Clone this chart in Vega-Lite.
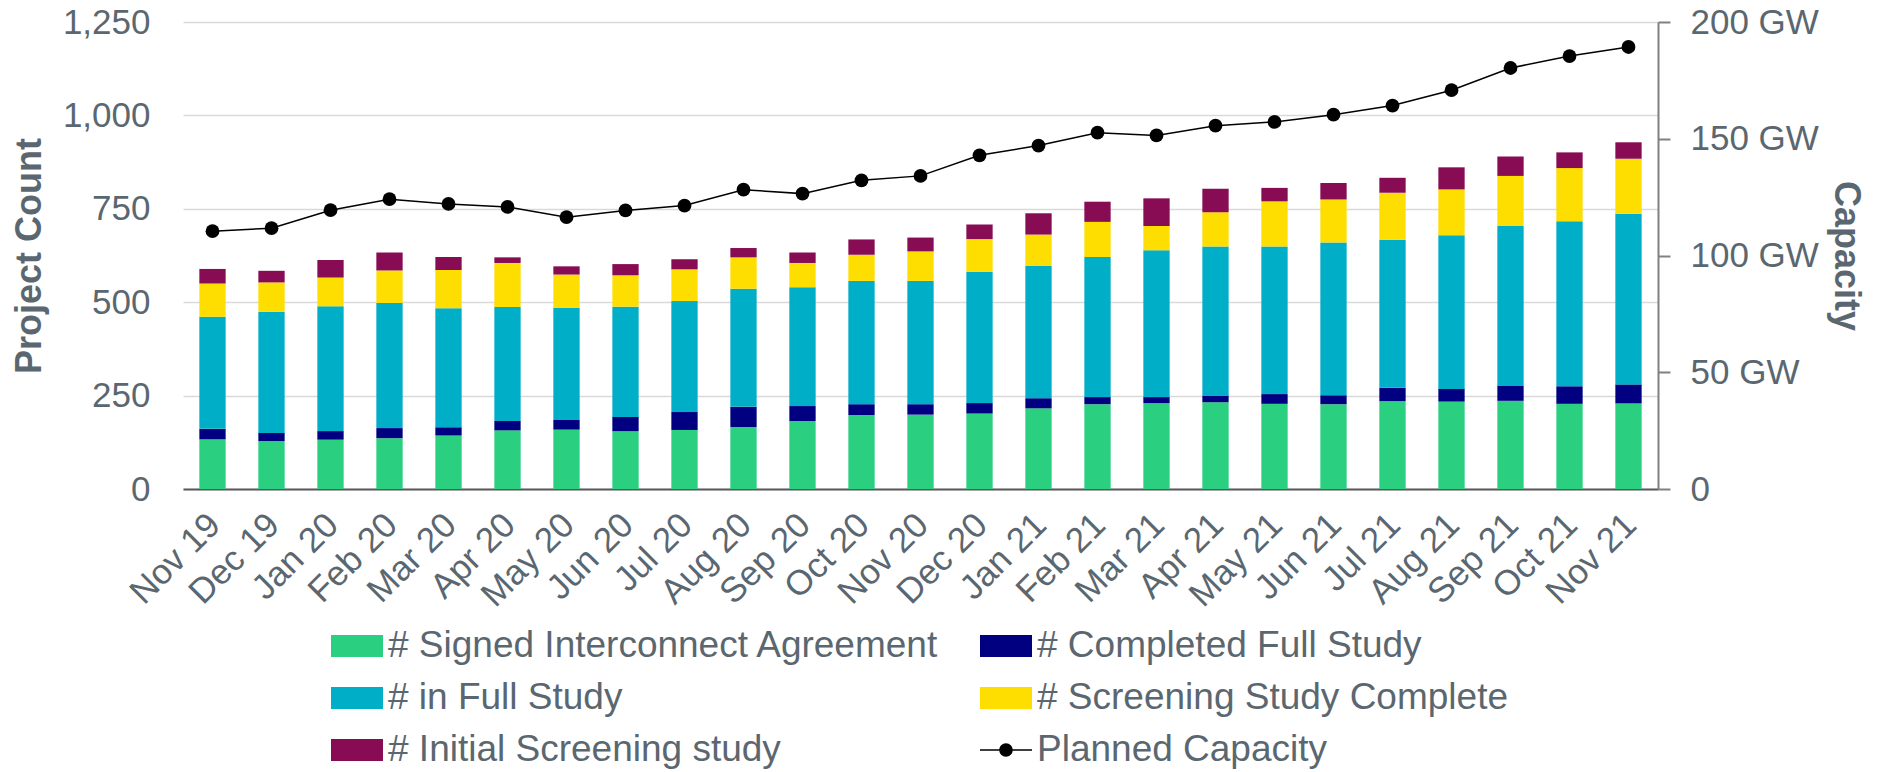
{
  "$schema": "https://vega.github.io/schema/vega-lite/v6.json",
  "width": 1475,
  "height": 467,
  "autosize": {"type": "none"},
  "padding": {"left": 183, "top": 22, "right": 228, "bottom": 283},
  "background": "white",
  "config": {
    "view": {"stroke": null},
    "font": "Liberation Sans",
    "axis": {"labelFont": "Liberation Sans", "titleFont": "Liberation Sans", "labelColor": "#5B6770", "titleColor": "#5B6770"}
  },
  "datasets": {
    "queue": [
      {"month": "Nov 19", "series": "# Signed Interconnect Agreement", "count": 133},
      {"month": "Nov 19", "series": "# Completed Full Study", "count": 28},
      {"month": "Nov 19", "series": "# in Full Study", "count": 300},
      {"month": "Nov 19", "series": "# Screening Study Complete", "count": 89},
      {"month": "Nov 19", "series": "# Initial Screening study", "count": 39},
      {"month": "Dec 19", "series": "# Signed Interconnect Agreement", "count": 128},
      {"month": "Dec 19", "series": "# Completed Full Study", "count": 22},
      {"month": "Dec 19", "series": "# in Full Study", "count": 324},
      {"month": "Dec 19", "series": "# Screening Study Complete", "count": 79},
      {"month": "Dec 19", "series": "# Initial Screening study", "count": 31},
      {"month": "Jan 20", "series": "# Signed Interconnect Agreement", "count": 132},
      {"month": "Jan 20", "series": "# Completed Full Study", "count": 23},
      {"month": "Jan 20", "series": "# in Full Study", "count": 334},
      {"month": "Jan 20", "series": "# Screening Study Complete", "count": 77},
      {"month": "Jan 20", "series": "# Initial Screening study", "count": 47},
      {"month": "Feb 20", "series": "# Signed Interconnect Agreement", "count": 136},
      {"month": "Feb 20", "series": "# Completed Full Study", "count": 27},
      {"month": "Feb 20", "series": "# in Full Study", "count": 335},
      {"month": "Feb 20", "series": "# Screening Study Complete", "count": 87},
      {"month": "Feb 20", "series": "# Initial Screening study", "count": 48},
      {"month": "Mar 20", "series": "# Signed Interconnect Agreement", "count": 143},
      {"month": "Mar 20", "series": "# Completed Full Study", "count": 22},
      {"month": "Mar 20", "series": "# in Full Study", "count": 319},
      {"month": "Mar 20", "series": "# Screening Study Complete", "count": 102},
      {"month": "Mar 20", "series": "# Initial Screening study", "count": 35},
      {"month": "Apr 20", "series": "# Signed Interconnect Agreement", "count": 157},
      {"month": "Apr 20", "series": "# Completed Full Study", "count": 25},
      {"month": "Apr 20", "series": "# in Full Study", "count": 305},
      {"month": "Apr 20", "series": "# Screening Study Complete", "count": 118},
      {"month": "Apr 20", "series": "# Initial Screening study", "count": 15},
      {"month": "May 20", "series": "# Signed Interconnect Agreement", "count": 159},
      {"month": "May 20", "series": "# Completed Full Study", "count": 26},
      {"month": "May 20", "series": "# in Full Study", "count": 300},
      {"month": "May 20", "series": "# Screening Study Complete", "count": 89},
      {"month": "May 20", "series": "# Initial Screening study", "count": 22},
      {"month": "Jun 20", "series": "# Signed Interconnect Agreement", "count": 155},
      {"month": "Jun 20", "series": "# Completed Full Study", "count": 38},
      {"month": "Jun 20", "series": "# in Full Study", "count": 295},
      {"month": "Jun 20", "series": "# Screening Study Complete", "count": 84},
      {"month": "Jun 20", "series": "# Initial Screening study", "count": 30},
      {"month": "Jul 20", "series": "# Signed Interconnect Agreement", "count": 158},
      {"month": "Jul 20", "series": "# Completed Full Study", "count": 48},
      {"month": "Jul 20", "series": "# in Full Study", "count": 297},
      {"month": "Jul 20", "series": "# Screening Study Complete", "count": 85},
      {"month": "Jul 20", "series": "# Initial Screening study", "count": 27},
      {"month": "Aug 20", "series": "# Signed Interconnect Agreement", "count": 166},
      {"month": "Aug 20", "series": "# Completed Full Study", "count": 54},
      {"month": "Aug 20", "series": "# in Full Study", "count": 316},
      {"month": "Aug 20", "series": "# Screening Study Complete", "count": 84},
      {"month": "Aug 20", "series": "# Initial Screening study", "count": 25},
      {"month": "Sep 20", "series": "# Signed Interconnect Agreement", "count": 182},
      {"month": "Sep 20", "series": "# Completed Full Study", "count": 40},
      {"month": "Sep 20", "series": "# in Full Study", "count": 318},
      {"month": "Sep 20", "series": "# Screening Study Complete", "count": 65},
      {"month": "Sep 20", "series": "# Initial Screening study", "count": 28},
      {"month": "Oct 20", "series": "# Signed Interconnect Agreement", "count": 198},
      {"month": "Oct 20", "series": "# Completed Full Study", "count": 29},
      {"month": "Oct 20", "series": "# in Full Study", "count": 330},
      {"month": "Oct 20", "series": "# Screening Study Complete", "count": 70},
      {"month": "Oct 20", "series": "# Initial Screening study", "count": 41},
      {"month": "Nov 20", "series": "# Signed Interconnect Agreement", "count": 199},
      {"month": "Nov 20", "series": "# Completed Full Study", "count": 28},
      {"month": "Nov 20", "series": "# in Full Study", "count": 330},
      {"month": "Nov 20", "series": "# Screening Study Complete", "count": 79},
      {"month": "Nov 20", "series": "# Initial Screening study", "count": 37},
      {"month": "Dec 20", "series": "# Signed Interconnect Agreement", "count": 202},
      {"month": "Dec 20", "series": "# Completed Full Study", "count": 28},
      {"month": "Dec 20", "series": "# in Full Study", "count": 351},
      {"month": "Dec 20", "series": "# Screening Study Complete", "count": 88},
      {"month": "Dec 20", "series": "# Initial Screening study", "count": 39},
      {"month": "Jan 21", "series": "# Signed Interconnect Agreement", "count": 216},
      {"month": "Jan 21", "series": "# Completed Full Study", "count": 27},
      {"month": "Jan 21", "series": "# in Full Study", "count": 354},
      {"month": "Jan 21", "series": "# Screening Study Complete", "count": 84},
      {"month": "Jan 21", "series": "# Initial Screening study", "count": 57},
      {"month": "Feb 21", "series": "# Signed Interconnect Agreement", "count": 227},
      {"month": "Feb 21", "series": "# Completed Full Study", "count": 19},
      {"month": "Feb 21", "series": "# in Full Study", "count": 375},
      {"month": "Feb 21", "series": "# Screening Study Complete", "count": 94},
      {"month": "Feb 21", "series": "# Initial Screening study", "count": 54},
      {"month": "Mar 21", "series": "# Signed Interconnect Agreement", "count": 230},
      {"month": "Mar 21", "series": "# Completed Full Study", "count": 16},
      {"month": "Mar 21", "series": "# in Full Study", "count": 393},
      {"month": "Mar 21", "series": "# Screening Study Complete", "count": 65},
      {"month": "Mar 21", "series": "# Initial Screening study", "count": 74},
      {"month": "Apr 21", "series": "# Signed Interconnect Agreement", "count": 232},
      {"month": "Apr 21", "series": "# Completed Full Study", "count": 18},
      {"month": "Apr 21", "series": "# in Full Study", "count": 399},
      {"month": "Apr 21", "series": "# Screening Study Complete", "count": 92},
      {"month": "Apr 21", "series": "# Initial Screening study", "count": 63},
      {"month": "May 21", "series": "# Signed Interconnect Agreement", "count": 228},
      {"month": "May 21", "series": "# Completed Full Study", "count": 26},
      {"month": "May 21", "series": "# in Full Study", "count": 395},
      {"month": "May 21", "series": "# Screening Study Complete", "count": 121},
      {"month": "May 21", "series": "# Initial Screening study", "count": 36},
      {"month": "Jun 21", "series": "# Signed Interconnect Agreement", "count": 227},
      {"month": "Jun 21", "series": "# Completed Full Study", "count": 24},
      {"month": "Jun 21", "series": "# in Full Study", "count": 409},
      {"month": "Jun 21", "series": "# Screening Study Complete", "count": 115},
      {"month": "Jun 21", "series": "# Initial Screening study", "count": 44},
      {"month": "Jul 21", "series": "# Signed Interconnect Agreement", "count": 235},
      {"month": "Jul 21", "series": "# Completed Full Study", "count": 36},
      {"month": "Jul 21", "series": "# in Full Study", "count": 396},
      {"month": "Jul 21", "series": "# Screening Study Complete", "count": 126},
      {"month": "Jul 21", "series": "# Initial Screening study", "count": 40},
      {"month": "Aug 21", "series": "# Signed Interconnect Agreement", "count": 234},
      {"month": "Aug 21", "series": "# Completed Full Study", "count": 34},
      {"month": "Aug 21", "series": "# in Full Study", "count": 411},
      {"month": "Aug 21", "series": "# Screening Study Complete", "count": 123},
      {"month": "Aug 21", "series": "# Initial Screening study", "count": 59},
      {"month": "Sep 21", "series": "# Signed Interconnect Agreement", "count": 236},
      {"month": "Sep 21", "series": "# Completed Full Study", "count": 40},
      {"month": "Sep 21", "series": "# in Full Study", "count": 428},
      {"month": "Sep 21", "series": "# Screening Study Complete", "count": 134},
      {"month": "Sep 21", "series": "# Initial Screening study", "count": 52},
      {"month": "Oct 21", "series": "# Signed Interconnect Agreement", "count": 228},
      {"month": "Oct 21", "series": "# Completed Full Study", "count": 47},
      {"month": "Oct 21", "series": "# in Full Study", "count": 442},
      {"month": "Oct 21", "series": "# Screening Study Complete", "count": 142},
      {"month": "Oct 21", "series": "# Initial Screening study", "count": 42},
      {"month": "Nov 21", "series": "# Signed Interconnect Agreement", "count": 229},
      {"month": "Nov 21", "series": "# Completed Full Study", "count": 51},
      {"month": "Nov 21", "series": "# in Full Study", "count": 457},
      {"month": "Nov 21", "series": "# Screening Study Complete", "count": 147},
      {"month": "Nov 21", "series": "# Initial Screening study", "count": 44}
    ],
    "capacity": [
      {"month": "Nov 19", "gw": 110.4},
      {"month": "Dec 19", "gw": 111.7},
      {"month": "Jan 20", "gw": 119.4},
      {"month": "Feb 20", "gw": 124.1},
      {"month": "Mar 20", "gw": 122.1},
      {"month": "Apr 20", "gw": 120.8},
      {"month": "May 20", "gw": 116.4},
      {"month": "Jun 20", "gw": 119.3},
      {"month": "Jul 20", "gw": 121.4},
      {"month": "Aug 20", "gw": 128.2},
      {"month": "Sep 20", "gw": 126.5},
      {"month": "Oct 20", "gw": 132.2},
      {"month": "Nov 20", "gw": 134.1},
      {"month": "Dec 20", "gw": 142.9},
      {"month": "Jan 21", "gw": 147.1},
      {"month": "Feb 21", "gw": 152.6},
      {"month": "Mar 21", "gw": 151.4},
      {"month": "Apr 21", "gw": 155.6},
      {"month": "May 21", "gw": 157.2},
      {"month": "Jun 21", "gw": 160.3},
      {"month": "Jul 21", "gw": 164.2},
      {"month": "Aug 21", "gw": 170.8},
      {"month": "Sep 21", "gw": 180.3},
      {"month": "Oct 21", "gw": 185.4},
      {"month": "Nov 21", "gw": 189.3}
    ]
  },
  "encoding": {
    "x": {
      "field": "month",
      "type": "ordinal",
      "sort": null,
      "scale": {"paddingInner": 0.554, "paddingOuter": 0.277},
      "axis": {
        "title": null,
        "labelAngle": -45,
        "labelFontSize": 35,
        "labelPadding": 18,
        "labelOffset": -10,
        "ticks": false,
        "domainColor": "#595959",
        "domainWidth": 2
      }
    }
  },
  "layer": [
    {
      "data": {"name": "queue"},
      "transform": [
        {"calculate": "indexof(['# Signed Interconnect Agreement', '# Completed Full Study', '# in Full Study', '# Screening Study Complete', '# Initial Screening study'], datum.series)", "as": "stackRank"}
      ],
      "mark": {"type": "bar"},
      "encoding": {
        "y": {
          "field": "count",
          "type": "quantitative",
          "stack": "zero",
          "scale": {"domain": [0, 1250], "nice": false},
          "axis": {
            "title": "Project Count",
            "titleFontSize": 36,
            "titleFontWeight": "bold",
            "titlePadding": 14,
            "values": [0, 250, 500, 750, 1000, 1250],
            "labelExpr": "format(datum.value, ',d')",
            "labelFontSize": 35,
            "labelPadding": 33,
            "ticks": false,
            "domain": false,
            "gridColor": "#D9D9D9",
            "gridWidth": 1.5
          }
        },
        "color": {
          "field": "series",
          "type": "nominal",
          "scale": {
            "domain": ["# Signed Interconnect Agreement", "# Completed Full Study", "# in Full Study", "# Screening Study Complete", "# Initial Screening study", "Planned Capacity"],
            "range": ["#2AD07F", "#000080", "#00AEC7", "#FEDD00", "#870C53", "#000000"]
          },
          "legend": {
            "title": null,
            "orient": "none",
            "legendX": 148,
            "legendY": 598,
            "direction": "horizontal",
            "columns": 2,
            "columnPadding": 40,
            "rowPadding": 8,
            "labelFontSize": 37,
            "labelColor": "#5B6770",
            "labelFont": "Liberation Sans",
            "labelLimit": 900,
            "labelOffset": 5,
            "symbolSize": 2704,
            "padding": 0,
            "encode": {
              "symbols": {
                "update": {
                  "shape": [
                    {"test": "datum.value === 'Planned Capacity'", "value": "M-1,-0.03H1V0.03H-1Z M0.26,0A0.26,0.26,0,1,1,-0.26,0A0.26,0.26,0,1,1,0.26,0Z"},
                    {"value": "M-1,-0.42H1V0.42H-1Z"}
                  ],
                  "fill": {"scale": "color", "field": "value"},
                  "stroke": {"value": "transparent"},
                  "strokeWidth": {"value": 0},
                  "opacity": {"value": 1}
                }
              }
            }
          }
        },
        "order": {"field": "stackRank", "type": "quantitative", "sort": "ascending"}
      }
    },
    {
      "data": {"name": "capacity"},
      "mark": {"type": "line", "strokeWidth": 1.5, "point": {"filled": true, "size": 190}},
      "encoding": {
        "y": {
          "field": "gw",
          "type": "quantitative",
          "scale": {"domain": [0, 200], "nice": false},
          "axis": {
            "orient": "right",
            "title": "Capacity",
            "titleFontSize": 36,
            "titleFontWeight": "bold",
            "titlePadding": 8,
            "values": [0, 50, 100, 150, 200],
            "labelExpr": "datum.value === 0 ? '0' : datum.value + ' GW'",
            "labelFontSize": 35,
            "labelPadding": 20,
            "tickSize": 12,
            "tickColor": "#808080",
            "tickWidth": 2,
            "domainColor": "#808080",
            "domainWidth": 2,
            "grid": false
          }
        },
        "color": {"datum": "Planned Capacity", "type": "nominal"}
      }
    }
  ],
  "resolve": {"scale": {"y": "independent"}}
}
